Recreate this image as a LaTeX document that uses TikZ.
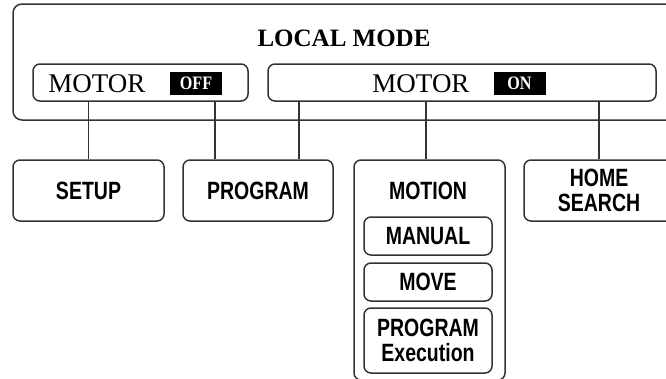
\documentclass[tikz,border=0pt]{standalone}
\usepackage{fontspec}
\setmainfont{Liberation Serif}
\newfontfamily\narrowsans[FakeStretch=0.78]{Liberation Sans}
\newfontfamily\tagserif[FakeStretch=0.85]{Liberation Serif}
\begin{document}
\begin{tikzpicture}[x=1pt,y=-1pt,
  line width=1.5pt,
  frame/.style={draw=black!80,rounded corners=7pt},
  lbl/.style={font=\narrowsans\bfseries\fontsize{25}{25}\selectfont,align=center,inner sep=0pt},
  ser/.style={font=\fontsize{27}{30}\selectfont,inner sep=0pt},
  tag/.style={fill=black,text=white,font=\tagserif\bfseries\fontsize{19}{20}\selectfont,minimum width=52pt,minimum height=23pt,inner sep=0pt}]
\useasboundingbox (0,0) rectangle (666,378);
\clip (0,0) rectangle (666,378);
% outer box
\draw[frame,rounded corners=9pt] (13,4) rectangle (690,120);
\node[font=\bfseries\fontsize{25}{28}\selectfont,inner sep=0pt] (title) at (344,38) {LOCAL MODE};
% motor off / on boxes
\node[frame,minimum width=215pt,minimum height=37pt,inner sep=0pt] (motoroff) at (140.5,82.5) {};
\node[ser] (motoroffT) at (97,84) {MOTOR};
\node[tag] (off) at (196,83.5) {OFF};
\node[frame,minimum width=388pt,minimum height=37pt,inner sep=0pt] (motoron) at (462,82.5) {};
\node[ser] (motoronT) at (421,84) {MOTOR};
\node[tag] (on) at (519.5,83.5) {ON};
% lower boxes
\node[frame,lbl,minimum width=151pt,minimum height=61pt] (setup) at (88.5,190.5) {SETUP};
\node[frame,lbl,minimum width=150pt,minimum height=61pt] (program) at (258,190.5) {PROGRAM};
\node[frame,minimum width=151pt,minimum height=220pt,inner sep=0pt] (motion) at (429.5,270) {};
\node[lbl] (motionT) at (428,191) {MOTION};
\node[frame,lbl,minimum width=128pt,minimum height=38pt] (manual) at (428,236) {MANUAL};
\node[frame,lbl,minimum width=128pt,minimum height=38pt] (move) at (428,282) {MOVE};
\node[frame,lbl,minimum width=128pt,minimum height=65pt] (progex) at (428,340.5) {PROGRAM\\Execution};
\node[frame,lbl,minimum width=150pt,minimum height=61pt] (home) at (599,190.5) {HOME\\SEARCH};
% connectors
\coordinate (c2) at (215,0);
\coordinate (c3) at (299,0);
\coordinate (c4) at (426,0);
\draw[black!80] (motoroff.south -| setup.north) -- (setup.north);
\draw[black!80] (motoroff.south -| c2) -- (program.north -| c2);
\draw[black!80] (motoron.south -| c3) -- (program.north -| c3);
\draw[black!80] (motoron.south -| c4) -- (motion.north -| c4);
\draw[black!80] (motoron.south -| home.north) -- (home.north);
\end{tikzpicture}
\end{document}
